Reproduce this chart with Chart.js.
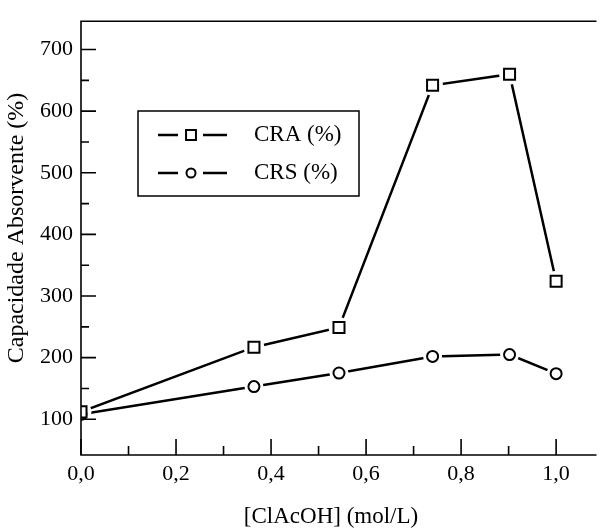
<!DOCTYPE html>
<html lang="pt">
<head>
    <meta charset="UTF-8">
    <title>Capacidade Absorvente</title>
    <script src="https://cdn.jsdelivr.net/npm/chart.js"></script>
    <style>
        body {
            margin: 0;
            padding: 0;
            background-color: #fff;
        }
        #wrap {
            width: 607px;
            height: 530px;
        }
    </style>
</head>
<body>
<div id="wrap">
    <canvas id="absChart" width="607" height="530"></canvas>
</div>
<script>
    // dados
    const concentracao = [0, 0.364, 0.543, 0.74, 0.902, 1.0];
    const craValores = [112, 217, 249, 642, 660, 324];
    const crsValores = [108, 153, 175, 202, 205, 174];
    const serieNomes = ['CRA (%)', 'CRS (%)'];

    const xMajorTicks = [0, 0.2, 0.4, 0.6, 0.8, 1.0];
    const xMinorTicks = [0.1, 0.3, 0.5, 0.7, 0.9];
    const yMajorTicks = [100, 200, 300, 400, 500, 600, 700];
    const yMinorTicks = [150, 250, 350, 450, 550, 650];

    const fonte = 'Liberation Serif';

    function pontos(valores) {
        return concentracao.map((x, i) => ({ x: x, y: valores[i] }));
    }

    // linha, "halo" branco (espaço entre linha e marcador) e marcador
    function series(valores, estilo, raio, halo) {
        return [
            {
                label: 'linha',
                data: pontos(valores),
                showLine: true,
                borderColor: '#000',
                borderWidth: 2.5,
                pointRadius: 0,
                order: 3
            },
            {
                label: 'halo',
                data: pontos(valores),
                showLine: false,
                pointStyle: 'circle',
                pointRadius: halo,
                pointBackgroundColor: '#fff',
                pointBorderWidth: 0,
                order: 2
            },
            {
                label: 'marcador',
                data: pontos(valores),
                showLine: false,
                pointStyle: estilo,
                pointRadius: raio,
                pointBackgroundColor: '#fff',
                pointBorderColor: '#000',
                pointBorderWidth: 2,
                order: 1
            }
        ];
    }

    const eixosPlugin = {
        id: 'eixos',
        afterDraw: (chart) => {
            const ctx = chart.ctx;
            const a = chart.chartArea;
            const xs = chart.scales.x;
            const ys = chart.scales.y;
            ctx.save();
            ctx.strokeStyle = '#000';
            ctx.lineWidth = 1.6;
            ctx.beginPath();
            ctx.moveTo(a.right, a.top);
            ctx.lineTo(a.left, a.top);
            ctx.lineTo(a.left, a.bottom);
            ctx.lineTo(a.right, a.bottom);
            ctx.stroke();

            // marcas para dentro
            ctx.beginPath();
            yMajorTicks.forEach(v => {
                const y = ys.getPixelForValue(v);
                ctx.moveTo(a.left, y);
                ctx.lineTo(a.left + 15, y);
            });
            yMinorTicks.forEach(v => {
                const y = ys.getPixelForValue(v);
                ctx.moveTo(a.left, y);
                ctx.lineTo(a.left + 8, y);
            });
            xMajorTicks.forEach(v => {
                const x = xs.getPixelForValue(v);
                ctx.moveTo(x, a.bottom);
                ctx.lineTo(x, a.bottom - 16);
            });
            xMinorTicks.forEach(v => {
                const x = xs.getPixelForValue(v);
                ctx.moveTo(x, a.bottom);
                ctx.lineTo(x, a.bottom - 9);
            });
            ctx.stroke();

            // títulos dos eixos
            ctx.fillStyle = '#000';
            ctx.textAlign = 'center';
            ctx.textBaseline = 'middle';
            ctx.font = '23px "' + fonte + '"';
            ctx.fillText('[ClAcOH] (mol/L)', 331, 517);
            ctx.translate(17, 228);
            ctx.rotate(-Math.PI / 2);
            ctx.font = '24px "' + fonte + '"';
            ctx.fillText('Capacidade Absorvente (%)', 0, 0);
            ctx.restore();

            // legenda dentro do gráfico
            ctx.save();
            ctx.strokeStyle = '#000';
            ctx.lineWidth = 1.5;
            ctx.strokeRect(138, 111, 221, 85);
            const linhas = [135, 173];
            const estilos = [['rect', 7], ['circle', 4.5]];
            linhas.forEach((y, i) => {
                ctx.lineWidth = 2.5;
                ctx.beginPath();
                ctx.moveTo(158, y);
                ctx.lineTo(178, y);
                ctx.moveTo(203, y);
                ctx.lineTo(227, y);
                ctx.stroke();
                ctx.fillStyle = '#fff';
                ctx.lineWidth = 2;
                Chart.helpers.drawPoint(ctx, {
                    pointStyle: estilos[i][0],
                    radius: estilos[i][1],
                    rotation: 0,
                    borderWidth: 2
                }, 191, y);
                ctx.fillStyle = '#000';
                ctx.font = '23px "' + fonte + '"';
                ctx.textAlign = 'left';
                ctx.textBaseline = 'middle';
                ctx.fillText(serieNomes[i], 254, y);
            });
            ctx.restore();
        }
    };

    const ctx = document.getElementById('absChart').getContext('2d');
    const absChart = new Chart(ctx, {
        type: 'scatter',
        data: {
            datasets: [
                ...series(craValores, 'rect', 7.8, 10.5),
                ...series(crsValores, 'circle', 5.5, 9.5)
            ]
        },
        options: {
            responsive: false,
            animation: false,
            layout: {
                padding: { top: 15, right: 4, left: 0, bottom: 0 }
            },
            plugins: {
                legend: { display: false },
                tooltip: { enabled: false }
            },
            scales: {
                x: {
                    type: 'linear',
                    min: 0,
                    max: 1.085,
                    grid: { display: false, drawTicks: false },
                    border: { display: false },
                    afterBuildTicks: (s) => {
                        s.ticks = xMajorTicks.map(v => ({ value: v }));
                    },
                    afterFit: (s) => { s.height = 75; },
                    ticks: {
                        padding: 6,
                        color: '#000',
                        font: { family: fonte, size: 22 },
                        maxRotation: 0,
                        callback: (v) => v.toFixed(1).replace('.', ',')
                    }
                },
                y: {
                    min: 42,
                    max: 746,
                    grid: { display: false, drawTicks: false },
                    border: { display: false },
                    afterBuildTicks: (s) => {
                        s.ticks = yMajorTicks.map(v => ({ value: v }));
                    },
                    afterFit: (s) => { s.width = 81; },
                    ticks: {
                        padding: 8,
                        color: '#000',
                        font: { family: fonte, size: 22 },
                        callback: (v) => String(v)
                    }
                }
            }
        },
        plugins: [eixosPlugin]
    });
</script>
</body>
</html>
